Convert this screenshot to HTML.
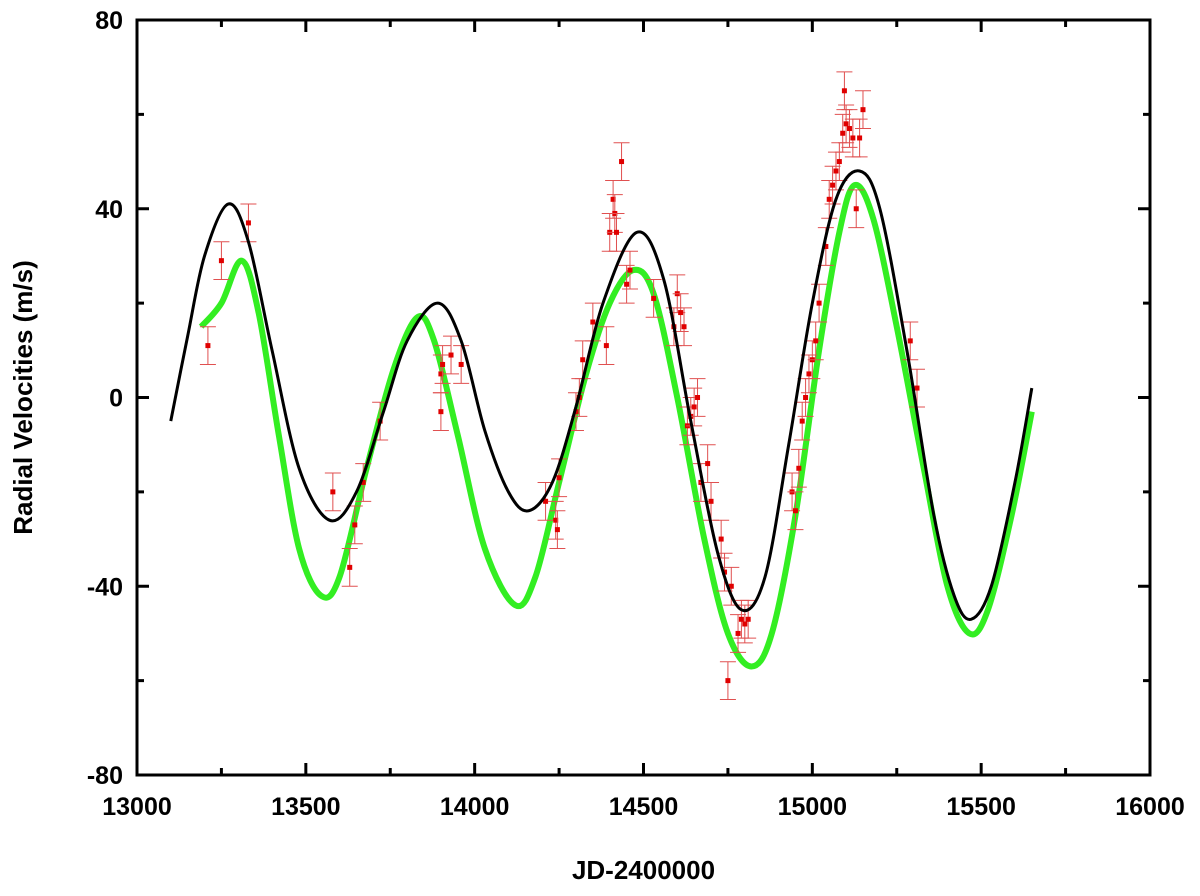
<!DOCTYPE html>
<html><head><meta charset="utf-8"><style>
body{margin:0;background:#fff}
svg text{font-family:"Liberation Sans",Arial,sans-serif;font-weight:bold;fill:#000}
</style></head><body>
<svg id="chart" width="1200" height="891" xmlns="http://www.w3.org/2000/svg">
</svg>
<script>
const xTicks=[13000,13500,14000,14500,15000,15500,16000];
const yTicks=[-80,-40,0,40,80];
const modelX=[13100,13150,13200,13270,13330,13400,13480,13570,13650,13730,13800,13890,13960,14030,14100,14160,14230,14300,14380,14480,14560,14640,14720,14790,14860,14930,15000,15070,15140,15200,15280,15360,15420,15470,15530,15600,15650];
const modelY=[-5,13,30,41,33,10,-15,-26,-20,-3,12,20,12,-7,-20,-24,-18,-2,20,35,25,-5,-33,-45,-38,-10,20,42,48,40,10,-25,-42,-47,-40,-18,2];
const fitX=[13190,13250,13310,13360,13420,13480,13545,13600,13680,13760,13830,13880,13950,14030,14120,14180,14250,14330,14400,14470,14530,14600,14680,14750,14820,14880,14950,15020,15080,15125,15180,15250,15330,15400,15465,15520,15590,15650];
const fitY=[15,20,29,18,-8,-32,-42,-38,-15,6,17,12,-8,-32,-44,-38,-18,5,20,27,22,0,-30,-50,-57,-50,-25,10,35,45,38,15,-15,-40,-50,-45,-25,-3];
const obsX=[13210,13250,13330,13580,13630,13645,13670,13720,13900,13900,13905,13930,13960,14210,14240,14245,14250,14300,14310,14320,14350,14390,14400,14410,14415,14420,14435,14450,14460,14530,14590,14600,14610,14620,14630,14640,14650,14660,14670,14690,14700,14730,14740,14750,14760,14780,14790,14800,14810,14940,14950,14960,14970,14980,14990,15000,15010,15020,15040,15050,15060,15070,15080,15090,15095,15100,15110,15120,15130,15140,15150,15290,15310];
const obsY=[11,29,37,-20,-36,-27,-18,-5,-3,5,7,9,7,-22,-26,-28,-17,-3,0,8,16,11,35,42,39,35,50,24,27,21,15,22,18,15,-6,-4,-2,0,-18,-14,-22,-30,-37,-60,-40,-50,-47,-48,-47,-20,-24,-15,-5,0,5,8,12,20,32,42,45,48,50,56,65,58,57,55,40,55,61,12,2];
const err=4;
const X0=137,X1=1150,Y0=775,Y1=20;
const sx=v=>X0+(v-13000)/3000*(X1-X0);
const sy=v=>Y0-(v+80)/160*(Y0-Y1);
const svg=document.getElementById('chart');
const NS='http://www.w3.org/2000/svg';
function mk(t,a){const e=document.createElementNS(NS,t);for(const k in a)e.setAttribute(k,a[k]);svg.appendChild(e);return e;}
function smooth(xs,ys){let d='M'+sx(xs[0])+','+sy(ys[0]);const P=xs.map((x,i)=>[sx(x),sy(ys[i])]);
for(let i=0;i<P.length-1;i++){const p0=P[Math.max(0,i-1)],p1=P[i],p2=P[i+1],p3=P[Math.min(P.length-1,i+2)];
d+=' C'+(p1[0]+(p2[0]-p0[0])/6)+','+(p1[1]+(p2[1]-p0[1])/6)+' '+(p2[0]-(p3[0]-p1[0])/6)+','+(p2[1]-(p3[1]-p1[1])/6)+' '+p2[0]+','+p2[1];}return d;}
let g=mk('path',{d:smooth(fitX,fitY),fill:'none',stroke:'#33ee22','stroke-width':6});


obsX.forEach((x,i)=>{const cx=sx(x),y=obsY[i];
const b=mk('path',{d:`M${cx},${sy(y-err)}V${sy(y+err)}M${cx-8},${sy(y-err)}h16M${cx-8},${sy(y+err)}h16`,stroke:'#e05050','stroke-width':1,fill:'none'});


const p=mk('rect',{x:cx-2.5,y:sy(y)-2.5,width:5,height:5,fill:'#e00000'});

});
let m=mk('path',{d:smooth(modelX,modelY),fill:'none',stroke:'#000','stroke-width':3});


let f=mk('rect',{x:X0,y:Y1,width:X1-X0,height:Y0-Y1,fill:'none',stroke:'#000','stroke-width':3});


for(let v=-80;v<=80;v+=20){const y=sy(v),L=v%40===0?12:7;
mk('line',{x1:X0,x2:X0+L,y1:y,y2:y,stroke:'#000','stroke-width':3});
mk('line',{x1:X1,x2:X1-L,y1:y,y2:y,stroke:'#000','stroke-width':3});}
for(let v=13000;v<=16000;v+=250){const x=sx(v),L=v%500===0?12:7;
mk('line',{x1:x,x2:x,y1:Y0,y2:Y0-L,stroke:'#000','stroke-width':3});
mk('line',{x1:x,x2:x,y1:Y1,y2:Y1+L,stroke:'#000','stroke-width':3});}
yTicks.forEach(v=>{const t=mk('text',{x:X0-14,y:sy(v)+9,'text-anchor':'end','font-size':25});t.textContent=v;

});
xTicks.forEach(v=>{const t=mk('text',{x:sx(v),y:Y0+40,'text-anchor':'middle','font-size':25});t.textContent=v;

});
let xt=mk('text',{x:(X0+X1)/2,y:879,'text-anchor':'middle','font-size':26});xt.textContent='JD-2400000';


let yt=mk('text',{x:0,y:0,'text-anchor':'middle','font-size':26,transform:`translate(32,${sy(0)}) rotate(-90)`});yt.textContent='Radial Velocities (m/s)';


</script>
</body></html>
